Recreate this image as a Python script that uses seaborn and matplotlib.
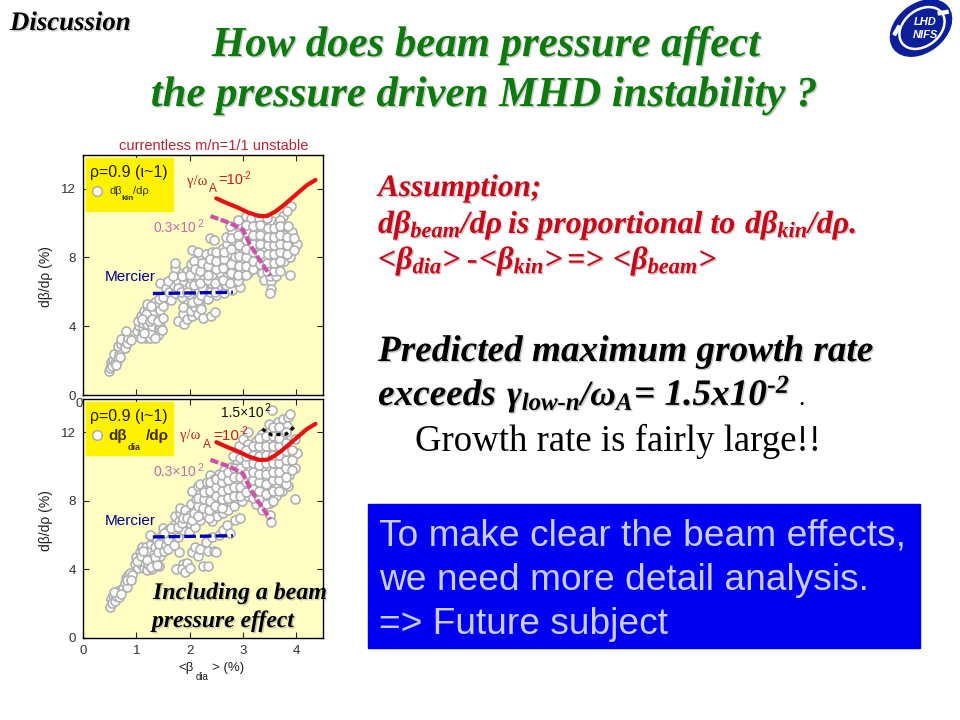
import matplotlib
matplotlib.use("Agg")
import matplotlib.pyplot as plt
import matplotlib.patheffects as pe
from matplotlib.patches import Ellipse, Rectangle
import pandas as pd
import seaborn as sns

# top panel, d beta_kin / d rho
kin_tail = [(0.48,1.4),(0.5,1.55),(0.52,1.9),(0.55,1.7),(0.57,2.05),(0.6,1.85),(0.62,2.2),(0.58,2.4),(0.65,2.1),
            (0.68,2.4),(0.7,2.7),(0.66,2.85),(0.72,2.95),(0.76,3.1),(0.72,3.25),(0.78,2.75),(0.82,3.0),(0.84,3.3),
            (0.8,3.7),(0.9,3.2),(0.7,2.2),(0.62,1.75)]
kin_low = [(1.02,3.7),(1.05,4.0),(1.03,4.3),(1.08,4.6),(1.1,3.5),(1.12,3.9),(1.12,4.2),(1.15,4.5),(1.15,4.9),(1.18,3.3),
           (1.2,3.7),(1.2,4.1),(1.22,5.0),(1.2,5.3),(1.25,3.3),(1.28,3.6),(1.3,4.0),(1.32,4.8),(1.35,5.4),(1.4,3.5),
           (1.42,3.9),(1.45,4.0),(1.48,3.8),(1.38,5.1),(1.45,4.95),(1.5,5.2),(1.42,5.6),(1.5,5.7),(1.18,4.7),(1.1,4.4)]
kin_branch = [(1.78,4.3),(1.9,4.1),(1.88,4.7),(1.95,4.4),(1.88,5.1),(2.05,4.6),(2.02,4.9),(2.1,5.1),(2.15,4.7),(2.2,5.2),
              (2.25,4.5),(2.22,5.0),(2.4,4.6),(2.48,4.8),(2.05,5.4),(2.15,5.5)]
kin_main = [(1.45,6.5),(1.55,6.2),(1.62,6.0),(1.65,5.5),(1.7,6.4),(1.72,5.95),(1.78,6.6),(1.8,7.1),(1.72,7.4),(1.72,7.7),
            (1.85,5.7),(1.88,6.2),(1.9,6.6),(1.92,6.9),(1.95,7.2),(1.98,5.85),(2.0,6.4),(2.02,6.8),(2.05,7.3),(2.02,7.6),
            (2.05,8.4),(2.1,6.1),(2.12,6.6),(2.14,7.0),(2.16,7.5),(2.18,8.0),(2.15,8.3),(2.22,5.8),(2.24,6.3),(2.26,6.8),
            (2.28,7.2),(2.3,7.7),(2.3,8.2),(2.35,5.6),(2.38,6.0),(2.4,6.5),(2.42,6.9),(2.43,7.4),(2.44,7.9),(2.42,8.3),
            (2.38,9.1),(2.45,9.0),(2.5,5.8),(2.52,6.2),(2.55,6.7),(2.56,7.1),(2.58,7.6),(2.56,8.1),(2.6,8.5),(2.65,5.9),
            (2.68,6.4),(2.7,6.9),(2.7,7.3),(2.72,7.8),(2.72,8.2),(2.7,8.8),(2.68,9.2),(2.8,6.1),(2.82,6.6),(2.84,7.1),
            (2.85,7.5),(2.85,8.0),(2.86,8.5),(2.82,9.0),(2.8,9.5),(2.75,9.8),(2.95,6.3),(2.96,6.9),(2.98,7.3),(2.98,7.8),
            (3.0,8.3),(3.0,8.8),(2.98,9.3),(2.96,9.9),(2.9,10.2),(3.05,10.4),(3.1,7.1),(3.1,7.6),(3.12,8.1),(3.12,8.6),
            (3.1,9.1),(3.12,9.6),(3.15,10.3),(3.24,7.4),(3.25,7.9),(3.26,8.4),(3.25,8.9),(3.24,9.4),(3.26,9.9),(3.3,10.3)]
kin_high = [(3.36,7.1),(3.38,7.6),(3.4,8.1),(3.38,8.6),(3.4,9.1),(3.38,9.6),(3.42,9.9),(3.4,6.7),(3.52,6.6),(3.5,6.9),
            (3.5,7.4),(3.52,7.9),(3.54,8.4),(3.52,8.9),(3.54,9.4),(3.52,9.8),(3.55,10.1),(3.53,6.15),(3.51,5.9),(3.62,6.9),
            (3.64,7.5),(3.65,8.0),(3.66,8.5),(3.65,9.0),(3.66,9.5),(3.65,10.0),(3.75,10.4),(3.76,7.8),(3.77,8.3),(3.78,8.8),
            (3.76,9.3),(3.78,9.8),(3.88,7.0),(3.88,8.0),(3.88,8.5),(3.9,9.0),(3.92,9.5),(3.98,8.6),(4.02,8.8),(3.9,11.0),
            (3.82,10.7),(3.7,10.2),(3.45,10.3)]
kin_fill = [(1.08,3.3),(1.15,3.6),(1.25,4.3),(1.3,4.4),(1.35,3.3),(1.4,4.3),(1.28,5.2),(1.5,4.5),(1.6,6.6),(1.68,6.9),
            (1.78,6.2),(1.83,6.0),(1.85,6.9),(1.95,6.0),(2.0,7.0),(2.08,6.4),(2.08,7.8),(2.1,7.3),(2.2,6.5),(2.2,7.2),
            (2.24,7.7),(2.35,6.7),(2.35,7.0),(2.35,7.5),(2.38,7.9),(2.48,6.0),(2.48,6.5),(2.5,7.3),(2.5,7.8),(2.5,8.3),
            (2.62,6.7),(2.62,7.4),(2.64,7.9),(2.65,8.3),(2.75,6.5),(2.78,7.1),(2.78,7.6),(2.78,8.5),(2.78,9.1),(2.9,6.6),
            (2.9,7.0),(2.92,7.5),(2.92,8.1),(2.92,8.7),(2.9,9.3),(3.05,7.0),(3.05,7.5),(3.05,8.0),(3.06,8.5),(3.05,9.0),
            (3.05,9.5),(3.05,9.9),(3.18,7.3),(3.18,7.8),(3.18,8.3),(3.18,8.8),(3.18,9.3),(3.18,9.8),(3.32,7.6),(3.32,8.2),
            (3.32,8.8),(3.32,9.3),(3.32,9.9),(3.45,7.2),(3.45,7.7),(3.46,8.2),(3.46,8.7),(3.46,9.2),(3.46,9.7),(3.58,7.2),
            (3.58,7.7),(3.58,8.2),(3.58,8.7),(3.58,9.2),(3.58,9.7),(3.7,7.2),(3.7,7.8),(3.7,8.3),(3.7,8.8),(3.7,9.3),
            (3.7,9.8),(3.82,8.2),(3.82,8.7),(3.82,9.2),(3.84,9.8),(3.95,8.4),(3.95,9.1)]

# bottom panel, d beta_dia / d rho
dia_tail = [(0.5,1.8),(0.52,2.3),(0.55,2.05),(0.56,2.5),(0.6,2.15),(0.62,2.45),(0.65,2.75),(0.68,2.4),(0.7,2.8),(0.75,2.9),
            (0.78,3.2),(0.8,3.5),(0.82,3.0),(0.85,3.7),(0.88,3.8),(0.92,3.7)]
dia_low = [(0.98,4.3),(1.0,4.7),(1.03,4.1),(1.05,4.5),(1.06,5.0),(1.08,4.3),(1.1,5.3),(1.12,4.7),(1.14,4.1),(1.15,4.45),
           (1.18,4.9),(1.18,5.3),(1.2,3.95),(1.22,4.3),(1.25,4.7),(1.26,5.1),(1.28,5.5),(1.3,4.0),(1.32,4.4),(1.33,4.9),
           (1.35,5.3),(1.3,5.9),(1.25,6.0),(1.38,5.7),(1.42,4.2),(1.45,4.8),(1.45,5.2),(1.47,5.6),(1.48,6.0),(1.5,6.4)]
dia_branch = [(1.75,4.0),(1.88,4.3),(1.85,4.0),(1.92,3.85),(1.95,4.4),(2.0,4.1),(1.8,5.0),(2.05,5.0),(2.1,5.3),(2.15,4.8),
              (2.2,5.2),(2.25,4.2),(2.35,4.2),(2.3,5.6),(2.35,5.1),(2.45,5.1),(2.5,5.0),(2.42,5.9),(2.55,6.0),(2.62,6.3),
              (2.7,6.6),(2.75,6.1),(2.85,6.9),(2.95,7.0)]
dia_main = [(1.55,5.8),(1.6,6.3),(1.65,5.6),(1.68,6.0),(1.7,6.6),(1.72,7.1),(1.75,6.3),(1.78,5.9),(1.8,6.8),(1.82,7.3),
            (1.82,7.6),(1.88,6.3),(1.9,6.9),(1.92,7.5),(1.98,6.2),(2.0,6.7),(2.0,7.2),(2.02,7.8),(2.1,6.5),(2.1,7.0),
            (2.12,7.5),(2.12,8.1),(2.05,8.6),(2.15,8.9),(2.2,6.9),(2.22,7.3),(2.22,7.9),(2.2,8.4),(2.2,9.0),(2.3,7.2),
            (2.32,7.7),(2.32,8.2),(2.3,8.7),(2.32,9.1),(2.38,9.5),(2.42,6.8),(2.42,7.4),(2.44,7.9),(2.44,8.4),(2.44,8.9),
            (2.45,9.3),(2.52,7.1),(2.54,7.6),(2.55,8.1),(2.55,8.6),(2.55,9.1),(2.55,9.6),(2.62,7.3),(2.65,7.8),(2.66,8.3),
            (2.66,8.8),(2.66,9.3),(2.65,9.8),(2.72,7.5),(2.76,8.0),(2.78,8.5),(2.78,9.0),(2.78,9.5),(2.78,10.0),(2.84,7.7),
            (2.88,8.2),(2.9,8.7),(2.9,9.2),(2.9,9.7),(2.88,10.2),(2.82,10.6),(2.98,8.0),(3.0,8.5),(3.0,9.0),(3.02,9.6),
            (3.0,10.1),(2.98,10.7),(2.92,11.2),(3.0,11.6),(3.1,8.3),(3.12,8.8),(3.12,9.3),(3.12,9.8),(3.12,10.3),(3.12,10.8),
            (3.1,11.3),(3.1,12.0)]
dia_high = [(3.24,7.8),(3.25,8.4),(3.25,8.9),(3.25,9.4),(3.26,9.9),(3.25,10.4),(3.24,11.0),(3.24,11.5),(3.36,7.5),(3.38,8.2),
            (3.38,8.8),(3.38,9.3),(3.38,9.8),(3.38,10.3),(3.36,10.9),(3.36,11.4),(3.36,11.9),(3.5,7.2),(3.52,6.75),(3.5,7.9),
            (3.5,8.5),(3.5,9.0),(3.5,9.5),(3.5,10.0),(3.5,10.5),(3.48,11.0),(3.5,11.5),(3.5,12.0),(3.48,12.5),(3.55,13.3),
            (3.62,8.3),(3.62,8.9),(3.62,9.4),(3.62,9.9),(3.62,10.4),(3.62,10.9),(3.62,11.4),(3.62,12.0),(3.65,12.6),(3.74,8.6),
            (3.75,9.1),(3.75,9.6),(3.75,10.1),(3.75,10.6),(3.74,11.1),(3.74,11.7),(3.75,12.2),(3.75,12.8),(3.85,8.9),(3.87,9.5),
            (3.87,10.0),(3.86,10.5),(3.86,11.0),(3.85,12.9),(3.88,13.1),(3.98,8.1),(3.98,9.9),(4.02,10.8),(3.98,11.6),(3.82,12.4)]
dia_fill = [(0.58,2.7),(0.72,2.55),(0.82,3.4),(0.9,3.4),(1.02,4.5),(1.08,4.8),(1.12,5.1),(1.2,4.55),(1.28,4.15),(1.35,4.7),
            (1.38,4.25),(1.4,5.0),(1.42,5.5),(1.52,5.1),(1.55,5.4),(1.6,5.7),(1.6,5.2),(1.7,5.4),(1.52,6.1),(1.65,6.4),
            (1.78,6.5),(1.85,6.7),(1.88,7.0),(1.95,7.0),(2.05,6.9),(2.08,7.3),(2.15,7.1),(2.15,7.7),(2.15,8.2),(2.25,7.6),
            (2.27,8.1),(2.27,8.5),(2.37,7.0),(2.37,7.5),(2.38,8.0),(2.38,8.6),(2.38,9.1),(2.48,7.7),(2.5,8.3),(2.5,8.8),
            (2.5,9.3),(2.6,7.6),(2.6,8.1),(2.6,8.6),(2.6,9.1),(2.6,9.5),(2.72,8.2),(2.72,8.7),(2.72,9.2),(2.72,9.7),
            (2.84,8.3),(2.84,8.8),(2.84,9.4),(2.84,9.9),(2.95,8.3),(2.95,8.8),(2.95,9.4),(2.95,9.9),(2.95,10.5),(3.05,8.5),
            (3.06,9.1),(3.06,9.6),(3.06,10.2),(3.06,10.6),(3.06,11.0),(3.18,8.2),(3.18,8.7),(3.18,9.2),(3.18,9.7),(3.18,10.2),
            (3.18,10.7),(3.18,11.2),(3.3,8.1),(3.3,8.6),(3.3,9.1),(3.3,9.6),(3.3,10.1),(3.3,10.6),(3.3,11.2),(3.3,11.7),
            (3.44,7.8),(3.44,8.4),(3.44,9.0),(3.44,9.6),(3.44,10.2),(3.44,10.7),(3.44,11.2),(3.44,11.8),(3.56,8.0),(3.56,8.6),
            (3.56,9.2),(3.56,9.7),(3.56,10.2),(3.56,10.7),(3.56,11.2),(3.56,11.8),(3.56,12.3),(3.68,8.6),(3.68,9.2),(3.68,9.7),
            (3.68,10.2),(3.68,10.7),(3.68,11.2),(3.68,11.7),(3.68,12.3),(3.8,9.0),(3.8,9.4),(3.8,9.9),(3.8,10.4),(3.8,10.9),
            (3.8,11.4),(3.8,12.0),(3.92,9.8),(3.92,10.4),(3.92,11.0)]

# stability boundaries shared by both panels
red_x = [2.5,2.7,2.9,3.1,3.3,3.45,3.6,3.75,3.9,4.05,4.2,4.36]
red_y = [11.43,11.15,10.9,10.6,10.4,10.4,10.65,11.0,11.4,11.8,12.2,12.5]
pink_x = [2.39,2.75,3.0,3.12,3.31,3.51]
pink_y = [10.4,10.0,9.6,8.8,7.85,6.94]
mercier_x = [1.31,2.81]
mercier_y = [5.9,5.97]
black_x = [3.36,3.53,3.81,3.97]
black_y = [12.2,11.86,11.9,12.35]
legend_key_x = [0.26]
legend_key_y = [11.85]

x_ticks = [0, 1, 2, 3, 4]
y_ticks = [0, 4, 8, 12]

sns.set_theme(style="ticks")
plt.rcParams["font.family"] = ["Liberation Sans", "DejaVu Sans"]
plt.rcParams["mathtext.fontset"] = "custom"
plt.rcParams["mathtext.rm"] = "Liberation Serif:italic:bold"
plt.rcParams["mathtext.it"] = "Liberation Serif:italic:bold"
plt.rcParams["mathtext.bf"] = "Liberation Serif:italic:bold"
plt.rcParams["mathtext.default"] = "it"

fig = plt.figure(figsize=(9.6, 7.2), dpi=100, facecolor="white")


def panel(box, points, show_black=False):
    # box in pixels: left, top, right, bottom
    l, t, r, b = box
    ax = fig.add_axes([l / 960, 1 - b / 720, (r - l) / 960, (b - t) / 720])
    ax.set_facecolor("#ffffc4")
    ax.add_patch(Rectangle((0.06, 10.68), 1.62, 3.08, color="#fff200", zorder=1))
    df = pd.DataFrame(points, columns=["beta", "grad"])
    sns.scatterplot(data=df, x="beta", y="grad", ax=ax, s=42, color="white", edgecolor="#b0b0b0",
                    linewidth=1.2, zorder=2, legend=False)
    sns.scatterplot(x=legend_key_x, y=legend_key_y, ax=ax, s=48, color="white", edgecolor="#a8a8a8",
                    linewidth=1.0, zorder=3, legend=False)
    sns.lineplot(x=red_x, y=red_y, ax=ax, color="#e81010", lw=3, sort=False, estimator=None, zorder=4)
    sns.lineplot(x=pink_x, y=pink_y, ax=ax, color="#d050a8", lw=3, ls=(0, (2, 0.6)), sort=False, estimator=None, zorder=4)
    sns.lineplot(x=mercier_x, y=mercier_y, ax=ax, color="#0000b8", lw=2.4, ls=(0, (3.5, 1.2)), sort=False, estimator=None, zorder=4)
    if show_black:
        sns.lineplot(x=black_x, y=black_y, ax=ax, color="black", lw=2.4, ls=(0, (1.2, 1.2)), sort=False, estimator=None, zorder=4)
    ax.set_xlim(0, 4.5)
    ax.set_ylim(0, 13.95)
    ax.set_xticks(x_ticks)
    ax.set_yticks(y_ticks)
    ax.tick_params(direction="in", top=True, right=True, length=4, width=0.8, labelsize=9.5,
                   labelcolor="#303030", pad=5)
    ax.set_xlabel("")
    ax.set_ylabel("")
    for s in ax.spines.values():
        s.set_linewidth(1.0)
        s.set_color("black")
    return ax


ax_top = panel((83, 155, 323, 395), kin_tail + kin_low + kin_branch + kin_main + kin_high + kin_fill)
ax_bottom = panel((83, 399, 323, 638), dia_tail + dia_low + dia_branch + dia_main + dia_high + dia_fill, show_black=True)
# the lower panel sits over the upper x labels, only the 0 stays readable
ax_top.set_xticklabels(["0", "", "", "", ""])
ax_top.tick_params(axis="x", pad=2)
ax_top.set_zorder(2)
for lab in ax_top.get_xticklabels():
    lab.set_ha("right")

# slide level overlay in pixel coordinates
ov = fig.add_axes([0, 0, 1, 1], zorder=10)
ov.set_xlim(0, 960)
ov.set_ylim(720, 0)
ov.axis("off")
ov.patch.set_alpha(0)

shadow = [pe.withSimplePatchShadow(offset=(1, -1), shadow_rgbFace="#888888", alpha=0.45)]
SERIF = ["Liberation Serif", "DejaVu Serif"]


def serif(x, y, s, size, color, ha="left", style="italic", weight="bold", fx=shadow):
    t = ov.text(x, y, s, fontsize=size, color=color, ha=ha, va="baseline", family=SERIF, style=style, weight=weight)
    if fx:
        t.set_path_effects(fx)
    return t


def sans(x, y, s, size, color="#202020", ha="left", va="center", **kw):
    return ov.text(x, y, s, fontsize=size, color=color, ha=ha, va=va, **kw)


# header
serif(10, 30, "Discussion", 19.3, "black")
serif(486, 56, "How does beam pressure affect", 30.8, "#0c7a0c", ha="center")
serif(484, 106, "the pressure driven MHD instability ?", 30.8, "#0c7a0c", ha="center")

# logo
ov.add_patch(Ellipse((921, 28), 68, 48, angle=-38, color="#0b1f9a"))
ov.add_patch(Ellipse((922, 28), 50, 36, angle=-38, fill=False, ec="white", lw=1.8))
ov.add_patch(Rectangle((893, 34), 10, 3, angle=-60, color="white"))
ov.add_patch(Rectangle((938, 12), 10, 3, angle=-10, color="white"))
sans(925, 22, "LHD", 8, "white", ha="center", weight="bold", style="italic")
sans(925, 35, "NIFS", 8, "white", ha="center", weight="bold", style="italic")

# assumption block, split up so each piece starts where it does on the slide
RED = "#c80818"
serif(378, 196, "Assumption;", 22.5, RED)
serif(378, 233, r"d$\beta_{beam}$/d$\rho$", 23, RED)
serif(508, 233, "is proportional to", 23, RED)
serif(745, 233, r"d$\beta_{kin}$/d$\rho$.", 23, RED)
serif(378, 269, r"<$\beta_{dia}$>", 23, RED)
serif(467, 269, "-", 23, RED)
serif(479, 269, r"<$\beta_{kin}$>", 23, RED)
serif(567, 269, "=>", 23, RED)
serif(613, 269, r"<$\beta_{beam}$>", 23, RED)

serif(378, 361, "Predicted maximum growth rate", 26.8, "black")
serif(378, 405, "exceeds", 26.8, "black")
serif(507, 405, r"$\gamma_{low\text{-}n}$/$\omega_{A}$", 25.5, "black")
serif(634, 405, r"= 1.5x10$^{\text{-}2}$", 26.8, "black")
serif(798, 405, ".", 18, "black", weight="normal", style="normal", fx=None)
serif(415, 451, "Growth rate is fairly large!!", 26.5, "black", weight="normal", style="normal", fx=None)

# blue box
ov.add_patch(Rectangle((368, 504), 552, 144, color="#0000f0"))
for y, line in zip([546, 590, 634], ["To make clear the beam effects,", "we need more detail analysis.", "=> Future subject"]):
    sans(379, y, line, 26.7, "#c8ccff", va="baseline")

# panel annotations, top
sans(119, 146, "currentless m/n=1/1 unstable", 10.5, "#c02030")
sans(90, 173, "ρ=0.9 (ι~1)", 11.5, "#202000")
sans(110, 191, "dβ", 8, "#303000")
sans(121, 199, "kin", 6, "#303000", weight="bold")
sans(133, 191, "/dρ", 8, "#303000")
sans(187, 182, "γ/ω", 10.5, "#d01818", family=SERIF)
sans(209, 189, "A", 8.5, "#d01818")
sans(218, 180, "=10", 10.5, "#d01818")
sans(243, 176, "-2", 7, "#d01818")
sans(154, 228, "0.3×10", 10, "#c868a8")
sans(197, 224, "2", 7.5, "#c868a8")
sans(105, 277, "Mercier", 11, "#000090")

# panel annotations, bottom
sans(90, 416, "ρ=0.9 (ι~1)", 11.5, "#202000")
sans(108, 436, "dβ", 11, "#403000", weight="bold")
sans(128, 447, "dia", 6.5, "#403000", weight="bold")
sans(146, 436, "/dρ", 11, "#403000", weight="bold")
sans(180, 436, "γ/ω", 10.5, "#d01818", family=SERIF)
sans(203, 445, "A", 8.5, "#d01818")
sans(213, 436, "=10", 11, "#d01818")
sans(240, 431, "-2", 7, "#d01818")
sans(154, 472, "0.3×10", 10, "#c868a8")
sans(197, 468, "2", 7.5, "#c868a8")
sans(221, 413, "1.5×10", 10, "#101010")
sans(264, 408, "2", 7.5, "#101010")
sans(105, 521, "Mercier", 11, "#000090")
serif(153, 599, "Including a beam", 17.2, "black")
serif(152, 627, "pressure effect", 17, "black")

# axis titles
sans(46, 277, "dβ/dρ (%)", 10, rotation=90, ha="center")
sans(46, 521, "dβ/dρ (%)", 10, rotation=90, ha="center")
sans(178, 668, "<β", 9.5)
sans(196, 677, "dia", 7)
sans(212, 668, "> (%)", 9.5)

fig.savefig("out.png", dpi=100)
